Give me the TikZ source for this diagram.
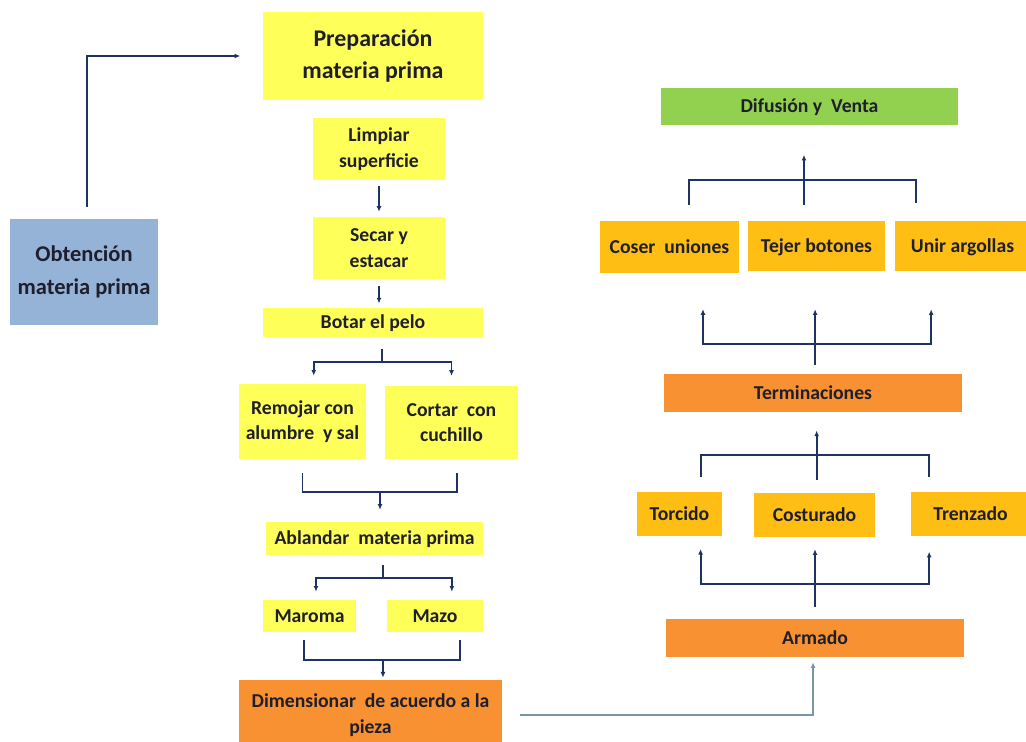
\documentclass[tikz,border=0pt]{standalone}
\usepackage{fontspec}
\setmainfont{Carlito}
\usetikzlibrary{arrows.meta}
\definecolor{amarillo}{RGB}{255,255,90}
\definecolor{naranja}{RGB}{247,145,50}
\definecolor{dorado}{RGB}{255,190,20}
\definecolor{verde}{RGB}{146,208,80}
\definecolor{celeste}{RGB}{149,179,215}
\definecolor{linea}{RGB}{30,50,100}
\definecolor{lineaclara}{RGB}{120,150,170}
\definecolor{texto}{RGB}{30,30,45}
\tikzset{
  caja/.style={rectangle, inner sep=0pt, align=center, text=texto, font=\bfseries\fontsize{14}{18}\selectfont},
  simple/.style={caja, text height=10pt, text depth=1pt},
  grande/.style={caja, font=\bfseries\fontsize{17}{23.4}\selectfont},
  ln/.style={draw=linea, line width=1.3pt},
  arr/.style={ln, -{Latex[length=4pt,width=3.5pt]}},
}
\begin{document}
\begin{tikzpicture}[x=0.025cm,y=-0.025cm]
\clip (0,0) rectangle (1026,742);

\node[grande, fill=amarillo, minimum width=5.5cm, minimum height=2.2cm] (prep) at (373,56) {Preparación\\materia prima};
\node[caja, fill=amarillo, minimum width=3.3cm, minimum height=1.55cm] (limpiar) at (379,149) {Limpiar\\superficie};
\node[caja, fill=amarillo, minimum width=3.3cm, minimum height=1.55cm] (secar) at (379,248) {Secar y\\estacar};
\node[simple, fill=amarillo, minimum width=5.5cm, minimum height=0.725cm] (botar) at (373,322.5) {Botar el pelo};
\node[caja, fill=amarillo, minimum width=3.175cm, minimum height=1.875cm] (remojar) at (302.5,421.5) {Remojar con\\alumbre\ \ y sal};
\node[caja, fill=amarillo, minimum width=3.325cm, minimum height=1.825cm] (cortar) at (451.5,422.5) {Cortar\ \ con\\cuchillo};
\node[simple, fill=amarillo, minimum width=5.425cm, minimum height=0.825cm] (ablandar) at (374.5,538.5) {Ablandar\ \ materia prima};
\node[simple, fill=amarillo, minimum width=2.325cm, minimum height=0.8cm] (maroma) at (309.5,616) {Maroma};
\node[simple, fill=amarillo, minimum width=2.4cm, minimum height=0.8cm] (mazo) at (435,616) {Mazo};
\node[caja, fill=naranja, minimum width=6.575cm, minimum height=1.75cm] (dimen) at (370.5,715) {Dimensionar\ \ de acuerdo a la\\pieza};
\node[grande, font=\bfseries\fontsize{16}{23}\selectfont, fill=celeste, minimum width=3.7cm, minimum height=2.65cm] (obtencion) at (84,272) {Obtención\\materia prima};

\node[simple, fill=verde, minimum width=7.425cm, minimum height=0.925cm] (difusion) at (809.5,106.5) {Difusión y\ \ Venta};
\node[simple, fill=dorado, minimum width=3.475cm, minimum height=1.3cm] (coser) at (669.5,247) {Coser\ \ uniones};
\node[simple, fill=dorado, minimum width=3.425cm, minimum height=1.25cm] (tejer) at (816.5,246) {Tejer botones};
\node[simple, fill=dorado, minimum width=3.375cm, minimum height=1.25cm] (unir) at (962.5,246) {Unir argollas};
\node[simple, fill=naranja, minimum width=7.45cm, minimum height=0.95cm] (termin) at (813,393) {Terminaciones};
\node[simple, fill=dorado, minimum width=2.125cm, minimum height=1.1cm] (torcido) at (679.5,514) {Torcido};
\node[simple, fill=dorado, minimum width=3.025cm, minimum height=1.1cm] (costurado) at (814.5,515) {Costurado};
\node[simple, fill=dorado, minimum width=2.975cm, minimum height=1.1cm] (trenzado) at (970.5,514) {Trenzado};
\node[simple, fill=naranja, minimum width=7.45cm, minimum height=0.95cm] (armado) at (815,638) {Armado};

\draw[arr, shorten <=8pt, shorten >=16pt] ([xshift=2pt]obtencion.north) |- (prep.west);
\draw[arr, shorten <=4pt, shorten >=3.5pt] (limpiar) -- (secar);
\draw[arr, shorten <=5pt, shorten >=3pt] (secar.south) -- (secar.south |- botar.north);

\coordinate (jb) at (382,362);
\draw[ln, shorten <=8pt] (botar.south -| jb) -- (jb);
\draw[arr, shorten >=5.7pt] (jb) -| ([xshift=8pt]remojar.north);
\draw[arr, shorten >=7pt] (jb) -| (cortar.north);

\coordinate (jr) at (380,492);
\draw[ln, shorten <=10pt] (remojar.south) |- (jr);
\draw[ln, shorten <=10pt] ([xshift=4pt]cortar.south) |- (jr);
\draw[arr, shorten >=8.5pt] (jr) -- (jr |- ablandar.north);

\coordinate (ja) at (383,578);
\draw[ln, shorten <=7pt] (ablandar.south -| ja) -- (ja);
\draw[arr, shorten >=5.7pt] (ja) -| ([xshift=4.6pt]maroma.north);
\draw[arr, shorten >=5.7pt] (ja) -| ([xshift=12pt]mazo.north);

\coordinate (jm) at (383,660);
\draw[ln, shorten <=5.7pt] ([xshift=-4pt]maroma.south) |- (jm);
\draw[ln, shorten <=5.7pt] ([xshift=17.7pt]mazo.south) |- (jm);
\draw[arr, shorten >=1.5pt] (jm) -- (jm |- dimen.north);

\draw[arr, draw=lineaclara, line width=1pt, shorten <=12.8pt, shorten >=3.5pt] (dimen.east) -| ([xshift=-1.4pt]armado.south);

\coordinate (jt) at (815,584);
\draw[arr, shorten <=8.5pt, shorten >=8.5pt] (armado.north) -- (armado.north |- costurado.south);
\draw[ln] ([xshift=15pt]torcido.south |- jt) -- ([xshift=-29.4pt]trenzado.south |- jt);
\draw[arr, shorten >=9pt] (jt) -| ([xshift=15pt]torcido.south);
\draw[arr, shorten >=11pt] (jt) -| ([xshift=-29.4pt]trenzado.south);

\coordinate (ju) at (815,455);
\draw[ln, shorten <=10.6pt] ([xshift=15pt]torcido.north) |- (ju);
\draw[ln, shorten <=10.6pt] ([xshift=-29.4pt]trenzado.north) |- (ju);
\draw[arr, shorten <=9pt, shorten >=13pt] ([xshift=1.5pt]costurado.north) -- ([xshift=1.5pt]costurado.north |- termin.south);

\coordinate (jc) at (815,344);
\draw[arr, shorten <=6.4pt, shorten >=27pt] ([xshift=1.5pt]termin.north) -- ([xshift=1.5pt]termin.north |- tejer.south);
\draw[arr, shorten >=25.5pt] (jc) -| ([xshift=23.8pt]coser.south);
\draw[arr, shorten >=27pt] (jc) -| ([xshift=-22.3pt]unir.south);

\coordinate (jd) at (804,180);
\draw[ln, shorten <=11.3pt] ([xshift=13.8pt]coser.north) |- (jd);
\draw[ln, shorten <=12.8pt] ([xshift=-33pt]unir.north) |- (jd);
\draw[arr, shorten <=11pt, shorten >=21pt] ([xshift=-8.9pt]tejer.north) -- ([xshift=-8.9pt]tejer.north |- difusion.south);
\end{tikzpicture}
\end{document}
